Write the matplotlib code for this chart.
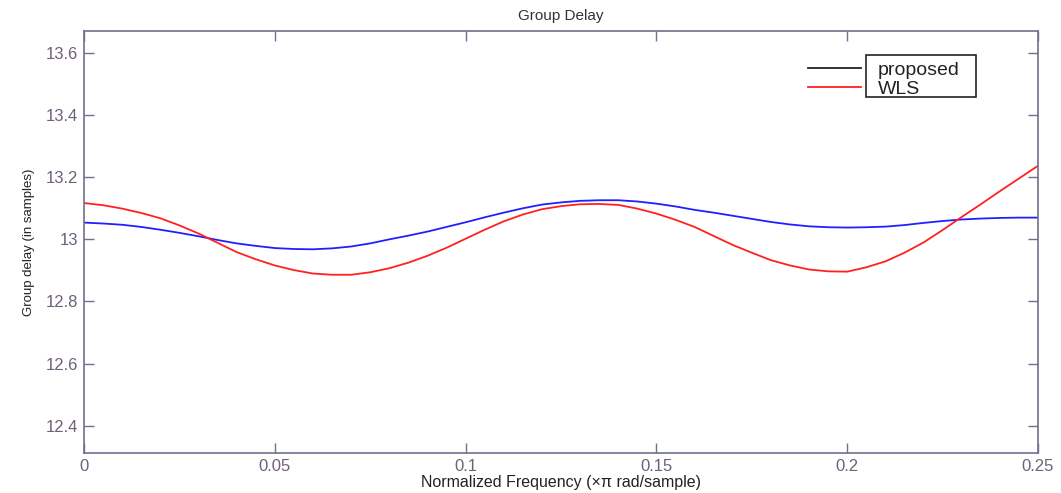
import matplotlib
matplotlib.use("Agg")
import matplotlib.pyplot as plt
from matplotlib.lines import Line2D
from matplotlib.patches import Rectangle

plt.rcParams["font.family"] = ["Liberation Sans", "DejaVu Sans"]

freq = [0.000, 0.005, 0.010, 0.015, 0.020, 0.025, 0.030, 0.035, 0.040, 0.045,
        0.050, 0.055, 0.060, 0.065, 0.070, 0.075, 0.080, 0.085, 0.090, 0.095,
        0.100, 0.105, 0.110, 0.115, 0.120, 0.125, 0.130, 0.135, 0.140, 0.145,
        0.150, 0.155, 0.160, 0.165, 0.170, 0.175, 0.180, 0.185, 0.190, 0.195,
        0.200, 0.205, 0.210, 0.215, 0.220, 0.225, 0.230, 0.235, 0.240, 0.245,
        0.250]
proposed = [13.054, 13.051, 13.047, 13.040, 13.031, 13.021, 13.010, 12.998, 12.987, 12.979,
            12.972, 12.969, 12.968, 12.971, 12.977, 12.987, 13.000, 13.012, 13.025, 13.040,
            13.055, 13.071, 13.086, 13.100, 13.112, 13.119, 13.124, 13.126, 13.126, 13.122,
            13.115, 13.106, 13.095, 13.086, 13.076, 13.066, 13.056, 13.048, 13.042, 13.039,
            13.038, 13.039, 13.041, 13.046, 13.053, 13.059, 13.064, 13.067, 13.069, 13.070,
            13.070]
wls = [13.117, 13.110, 13.099, 13.085, 13.068, 13.045, 13.019, 12.989, 12.959, 12.936,
       12.916, 12.901, 12.890, 12.886, 12.886, 12.894, 12.907, 12.925, 12.947, 12.973,
       13.002, 13.031, 13.058, 13.080, 13.097, 13.107, 13.113, 13.114, 13.111, 13.099,
       13.083, 13.063, 13.040, 13.011, 12.982, 12.957, 12.933, 12.916, 12.903, 12.897,
       12.896, 12.910, 12.929, 12.957, 12.990, 13.030, 13.072, 13.113, 13.155, 13.196,
       13.237]

xticks = [0, 0.05, 0.1, 0.15, 0.2, 0.25]
xticklabels = ["0", "0.05", "0.1", "0.15", "0.2", "0.25"]
yticks = [12.4, 12.6, 12.8, 13.0, 13.2, 13.4, 13.6]
yticklabels = ["12.4", "12.6", "12.8", "13", "13.2", "13.4", "13.6"]
legend_labels = ["proposed", "WLS"]

W, H = 1061, 493
fig = plt.figure(figsize=(W / 100, H / 100), dpi=100)
ax = fig.add_axes([84 / W, 1 - 453 / H, (1038 - 84) / W, (453 - 31) / H])

ax.plot(freq, proposed, color="#2020ff", lw=1.3)
ax.plot(freq, wls, color="#ff2020", lw=1.3)

ax.set_xlim(0, 0.25)
ax.set_ylim(12.312, 13.671)
ax.set_xticks(xticks)
ax.set_xticklabels(xticklabels)
ax.set_yticks(yticks)
ax.set_yticklabels(yticklabels)

axcol = "#707090"
for s in ax.spines.values():
    s.set_color(axcol)
    s.set_linewidth(1.2)
ax.tick_params(direction="in", length=7, width=1.0, color=axcol,
               top=True, right=True, labelsize=12, labelcolor="#6f6078", pad=4)

ax.set_title("Group Delay", fontsize=11, color="#333333", pad=8)
ax.set_xlabel("Normalized Frequency (\u00d7\u03c0 rad/sample)", fontsize=11.5, color="#222222", labelpad=1)
ax.set_ylabel("Group delay (in samples)", fontsize=9.5, color="#222222", labelpad=8)

handles = [Line2D([], [], color="#222222", lw=1.3), Line2D([], [], color="#ff2020", lw=1.3)]
leg = fig.legend(handles, legend_labels, loc="upper left",
                 bbox_to_anchor=(808 / W, 1 - 61 / H), bbox_transform=fig.transFigure,
                 frameon=False, fontsize=14, handlelength=2.7, handletextpad=0.9,
                 labelspacing=0.1, borderpad=0, borderaxespad=0)
for t in leg.get_texts():
    t.set_color("#222222")
fig.patches.append(Rectangle((866 / W, 1 - 97 / H), 110 / W, 42 / H,
                             transform=fig.transFigure, fill=False,
                             edgecolor="#222222", lw=1.2))

fig.savefig("out.png", dpi=100)
